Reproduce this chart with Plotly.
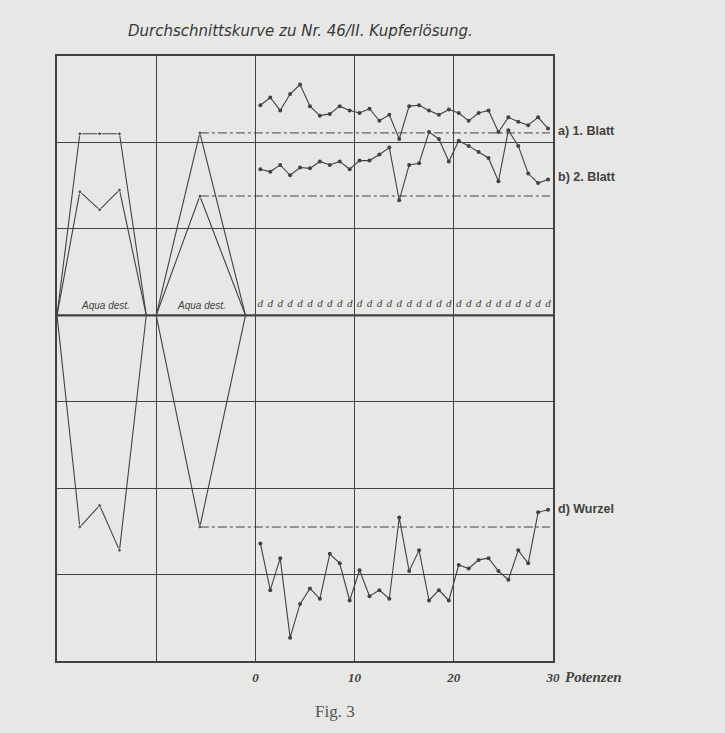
import plotly.graph_objects as go

# Potenzen 1..30, jeder Punkt sitzt in der Mitte seines Intervalls
potenzen = list(range(1, 31))
potenz_labels = ["d"] * 30

# Durchschnittswerte (Skaleneinheiten, Mittellinie = 40)
blatt_1 = [64.3, 65.2, 63.7, 65.6, 66.7, 64.2, 63.1, 63.3, 64.2, 63.7,
           63.4, 63.9, 62.5, 63.2, 60.4, 64.2, 64.3, 63.7, 63.2, 63.8,
           63.4, 62.5, 63.4, 63.7, 61.2, 62.9, 62.4, 62.0, 62.9, 61.6]
blatt_2 = [56.9, 56.6, 57.4, 56.2, 57.1, 57.0, 57.8, 57.4, 57.8, 56.9,
           57.9, 57.9, 58.6, 59.4, 53.3, 57.4, 57.6, 61.2, 60.4, 57.8,
           60.2, 59.6, 58.9, 58.2, 55.5, 61.4, 59.6, 56.4, 55.3, 55.7]
wurzel = [13.6, 8.2, 11.9, 2.7, 6.6, 8.4, 7.2, 12.4, 11.3, 7.0,
          10.5, 7.5, 8.2, 7.2, 16.6, 10.4, 12.8, 7.0, 8.2, 7.0,
          11.1, 10.7, 11.7, 11.9, 10.4, 9.4, 12.8, 11.3, 17.2, 17.5]

# Aqua dest. (zwei Kontrollfelder links)
aqua_1_x = [-20, -17.7, -15.7, -13.7, -11]
aqua_1_blatt_1 = [40, 61.0, 61.0, 61.0, 40]
aqua_1_blatt_2 = [40, 54.3, 52.2, 54.5, 40]
aqua_1_wurzel = [40, 15.5, 18.0, 12.8, 40]

aqua_2_x = [-10, -5.6, -1]
aqua_2_blatt_1 = [40, 61.1, 40]
aqua_2_blatt_2 = [40, 53.8, 40]
aqua_2_wurzel = [40, 15.5, 40]

INK = "#424242"
PAPER = "#e7e7e6"

x_pts = [p - 0.5 for p in potenzen]

fig = go.Figure()


def kurve(x, y, sizes=None):
    fig.add_trace(go.Scatter(
        x=x, y=y, mode="lines+markers",
        line=dict(color=INK, width=1.1),
        marker=dict(color=INK, size=sizes if sizes else 4),
        showlegend=False, hoverinfo="skip",
    ))


for y in (blatt_1, blatt_2, wurzel):
    kurve(x_pts, y)

for y in (aqua_1_blatt_1, aqua_1_blatt_2, aqua_1_wurzel):
    kurve(aqua_1_x, y, [0, 4, 4, 4, 0])
for y in (aqua_2_blatt_1, aqua_2_blatt_2, aqua_2_wurzel):
    kurve(aqua_2_x, y, [0, 4, 0])

# Strichpunkt-Linien auf Höhe der Aqua-dest.-Spitze
for y in (aqua_2_blatt_1[1], aqua_2_blatt_2[1], aqua_2_wurzel[1]):
    fig.add_trace(go.Scatter(
        x=[aqua_2_x[1], 29.7], y=[y, y], mode="lines",
        line=dict(color=INK, width=1, dash="dashdot"),
        showlegend=False, hoverinfo="skip",
    ))

# kleine Potenzbezeichnungen auf der Mittellinie
fig.add_trace(go.Scatter(
    x=x_pts, y=[41.3] * 30, mode="text", text=potenz_labels,
    textfont=dict(family="Liberation Serif", size=11, color=INK, style="italic"),
    showlegend=False, hoverinfo="skip",
))

# Mittellinie (kräftiger)
fig.add_shape(type="line", x0=-20, x1=30, y0=40, y1=40,
              line=dict(color=INK, width=2.2))

for xa in (-15.1, -5.4):
    fig.add_annotation(x=xa, y=40, yshift=10, text="<i>Aqua dest.</i>",
                       showarrow=False,
                       font=dict(family="Liberation Sans", size=10, color=INK))

for txt, yv in (("a) 1. Blatt", 61.3), ("b) 2. Blatt", 56.0), ("d) Wurzel", 17.6)):
    fig.add_annotation(x=30, y=yv, xshift=3, text="<b>" + txt + "</b>",
                       xanchor="left", showarrow=False,
                       font=dict(family="Liberation Sans", size=12.5, color=INK))

fig.add_annotation(x=30, y=0, xshift=10, yshift=-16, text="<b><i>Potenzen</i></b>",
                   xanchor="left", showarrow=False,
                   font=dict(family="Liberation Serif", size=15, color=INK))

fig.add_annotation(xref="paper", yref="paper", x=0.49, y=1.0, yshift=36,
                   text="<i>Durchschnittskurve zu Nr. 46/II. Kupferlösung.</i>",
                   showarrow=False,
                   font=dict(family="DejaVu Sans", size=15, color="#383838"))

fig.add_annotation(xref="paper", yref="paper", x=0.56, y=0, yshift=-62,
                   text="Fig. 3", showarrow=False,
                   font=dict(family="Liberation Serif", size=17, color="#555"))

fig.update_xaxes(
    range=[-20, 30],
    tickvals=[-10, 0, 10, 20, 30], ticktext=["", "0", "10", "20", "30"],
    tickfont=dict(family="Liberation Serif", size=13, color=INK, weight="bold", style="italic"),
    showgrid=True, gridcolor=INK, gridwidth=1.2,
    showline=True, linecolor=INK, linewidth=1.6, mirror=True,
    zeroline=False, ticks="", ticklabelstandoff=4,
)
fig.update_yaxes(
    range=[0, 70], tickvals=list(range(0, 71, 10)),
    showticklabels=False, showgrid=True, gridcolor=INK, gridwidth=1.1,
    showline=True, linecolor=INK, linewidth=1.6, mirror=True,
    zeroline=False, ticks="",
)

fig.update_layout(
    width=725, height=733,
    margin=dict(l=57, r=172, t=56, b=72),
    plot_bgcolor=PAPER, paper_bgcolor=PAPER,
    showlegend=False,
)

fig.write_html(
    "out.html",
    config={"displayModeBar": False},
    post_script="document.body.style.margin='0';document.body.style.background='%s';" % PAPER,
)
